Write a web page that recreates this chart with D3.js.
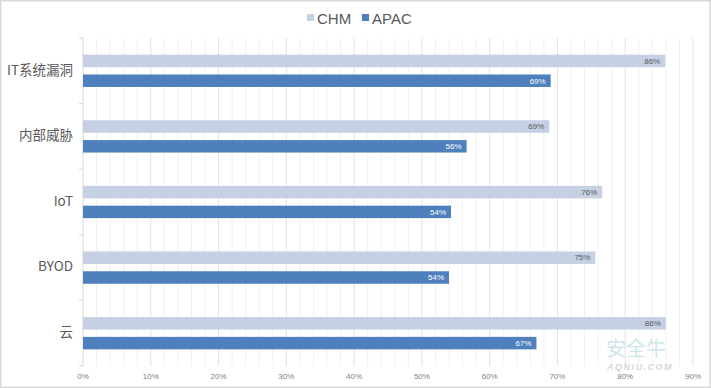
<!DOCTYPE html>
<html><head><meta charset="utf-8">
<script src="https://cdn.jsdelivr.net/npm/d3@7"></script>
<style>body{margin:0;background:#fff}svg{display:block}</style>
</head><body>
<script>
const categories = ["IT系统漏洞", "内部威胁", "IoT", "BYOD", "云"];
const seriesNames = ["CHM", "APAC"];
const chm = [85.9, 68.8, 76.6, 75.6, 86.0];
const apac = [69.0, 56.6, 54.3, 54.0, 66.9];
const chmLabels = ["86%", "69%", "76%", "75%", "86%"];
const apacLabels = ["69%", "56%", "54%", "54%", "67%"];
const majorTicks = [0,10,20,30,40,50,60,70,80,90];
const colors = ["#c5d0e3", "#4e80bd"];

const W = 711, H = 388;
const svg = d3.select("body").append("svg").attr("width", W).attr("height", H);
svg.append("rect").attr("x",0.5).attr("y",0.5).attr("width",W-1).attr("height",H-1)
  .attr("fill","#fff").attr("stroke","#d9d9d9").attr("stroke-width",2);

const m = {left:83, top:38};
const x = d3.scaleLinear().domain([0,90]).range([m.left, 693]);
const y = d3.scaleBand().domain(categories).range([m.top, 366]).paddingInner(0).paddingOuter(0);
const inner = d3.scaleBand().domain(seriesNames).range([0, y.bandwidth()]).paddingInner(0.37).paddingOuter(0.84);

const g = svg.append("g");
g.selectAll("line.minor").data(d3.range(0, 92, 2).filter(v => v % 10 !== 0)).join("line")
  .attr("x1", d=>x(d)).attr("x2", d=>x(d)).attr("y1", m.top).attr("y2", 366)
  .attr("stroke", "#f0f0f0").attr("stroke-width", 1);
g.selectAll("line.major").data(majorTicks.slice(1)).join("line")
  .attr("x1", d=>x(d)).attr("x2", d=>x(d)).attr("y1", m.top).attr("y2", 366)
  .attr("stroke", "#e2e2e2").attr("stroke-width", 1);

svg.append("line").attr("x1", x(0)).attr("x2", x(0)).attr("y1", m.top).attr("y2", 366)
  .attr("stroke", "#d9d9d9");
svg.selectAll("line.ytick").data(d3.range(categories.length+1)).join("line")
  .attr("x1", x(0)-4).attr("x2", x(0))
  .attr("y1", i => m.top + i*y.step()).attr("y2", i => m.top + i*y.step())
  .attr("stroke", "#d9d9d9");

const data = categories.map((c,i)=>({c, vals:[{s:"CHM", v:chm[i], l:chmLabels[i]},{s:"APAC", v:apac[i], l:apacLabels[i]}]}));
const grp = svg.selectAll("g.cat").data(data).join("g").attr("transform", d=>`translate(0,${y(d.c)})`);
grp.selectAll("rect").data(d=>d.vals).join("rect")
  .attr("x", x(0)).attr("y", d=>inner(d.s)).attr("height", inner.bandwidth())
  .attr("width", d=>x(d.v)-x(0)).attr("fill", (d,i)=>colors[i]);
grp.selectAll("text.val").data(d=>d.vals).join("text")
  .attr("x", d=>x(d.v)-5).attr("y", d=>inner(d.s)+inner.bandwidth()/2)
  .attr("dy","0.35em").attr("text-anchor","end")
  .attr("font-family","Liberation Sans, Arial, sans-serif").attr("font-size",8)
  .attr("fill",(d,i)=> i===0 ? "#595959" : "#ffffff")
  .text(d=>d.l);

svg.selectAll("text.cat").data(categories).join("text")
  .attr("x", 73).attr("y", d=>y(d)+y.bandwidth()/2 - 1).attr("dy","0.35em")
  .attr("text-anchor","end").attr("font-family","Noto Sans CJK SC, Noto Sans, sans-serif")
  .attr("font-size",13.5).attr("fill","#595959").text(d=>d);

svg.selectAll("text.xl").data(majorTicks).join("text")
  .attr("x", d=>x(d)).attr("y", 379).attr("text-anchor","middle")
  .attr("font-family","Liberation Sans, Arial, sans-serif").attr("font-size",8)
  .attr("fill","#7f7f7f").text(d=>d+"%");

const leg = svg.append("g");
const legItems = [{n:"CHM", x:307}, {n:"APAC", x:362}];
legItems.forEach((it,i)=>{
  leg.append("rect").attr("x",it.x).attr("y",14).attr("width",7).attr("height",7).attr("fill",colors[i]);
  leg.append("text").attr("x",it.x+10).attr("y",24).attr("font-family","Liberation Sans, Arial, sans-serif")
    .attr("font-size",15).attr("fill","#595959").text(it.n);
});

// watermark
svg.append("text").attr("x",636).attr("y",356).attr("text-anchor","middle")
  .attr("font-family","Noto Sans CJK SC, sans-serif").attr("font-size",20).attr("fill","#a9d3da").attr("opacity",0.55).text("安全牛");
svg.append("text").attr("x",640).attr("y",370).attr("text-anchor","middle")
  .attr("font-family","Liberation Sans, Arial, sans-serif").attr("font-style","italic").attr("font-weight","bold")
  .attr("font-size",9).attr("letter-spacing",1.5).attr("fill","#c8c8c8").attr("opacity",0.7).text("AQNIU.COM");
</script>
</body></html>
